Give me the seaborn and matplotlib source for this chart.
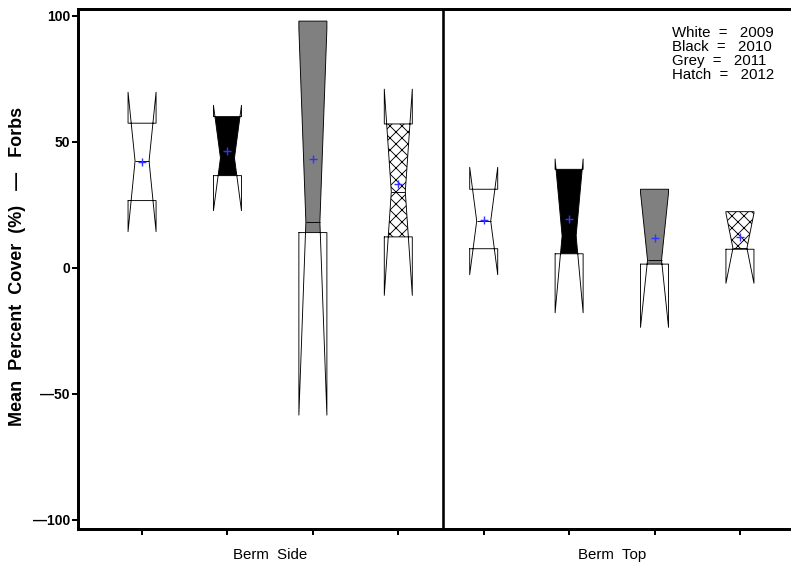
import matplotlib
matplotlib.use('Agg')
import matplotlib.pyplot as plt
import seaborn as sns

# Summary values (mean percent cover of forbs)
positions = [1, 2, 3, 4, 5, 6, 7, 8]
years = ['2009', '2010', '2011', '2012', '2009', '2010', '2011', '2012']
q1 = [26.7, 36.6, 14.0, 12.3, 7.6, 5.6, 1.5, 7.4]
median = [42.4, 43.6, 18.2, 30.2, 18.6, 12.7, 3.1, 7.8]
q3 = [57.4, 60.0, 97.9, 57.1, 31.2, 39.1, 31.2, 22.3]
notch_lo = [14.4, 22.7, -58.4, -10.9, -2.7, -17.8, -23.6, -6.1]
notch_hi = [69.7, 64.5, 94.8, 70.9, 39.9, 43.2, 29.8, 21.7]
means = [42.0, 46.5, 43.1, 33.3, 19.0, 19.3, 11.7, 12.4]

sites = ['Berm  Side', 'Berm  Top']
site_centers = [2.5, 6.5]
legend_lines = ['White  =   2009', 'Black  =   2010', 'Grey  =   2011', 'Hatch  =   2012']
ytick_vals = [-100, -50, 0, 50, 100]
ytick_labels = ['\u2014100', '\u201450', '0', '50', '100']

# fill style for each year
year_style = {
    '2009': dict(facecolor='white', hatch=None),
    '2010': dict(facecolor='black', hatch=None),
    '2011': dict(facecolor='#808080', hatch=None),
    '2012': dict(facecolor='white', hatch='xx'),
}

sns.set_style('white')
plt.rcParams['font.family'] = ['Liberation Sans', 'DejaVu Sans']
plt.rcParams['hatch.linewidth'] = 0.9
for key in ['text.color', 'axes.labelcolor', 'xtick.color', 'ytick.color']:
    plt.rcParams[key] = 'black'

HALF = 0.164  # half box width in x units


def notch_fill(pos, lo, med, hi, nlo, nhi):
    """Polygon of the notched box between Q1 and Q3"""
    indent = HALF * 0.5

    def edge(y):
        if y >= med:
            if y >= nhi:
                return HALF
            return HALF - indent * (nhi - y) / (nhi - med)
        if y <= nlo:
            return HALF
        return HALF - indent * (y - nlo) / (med - nlo)

    ys = sorted(set([lo, hi] + [v for v in (nlo, med, nhi) if lo < v < hi]))
    left = [(pos - edge(y), y) for y in ys]
    right = [(pos + edge(y), y) for y in reversed(ys)]
    return left + right


fig = plt.figure(figsize=(791 / 72, 574 / 72), dpi=72)
ax = fig.add_axes([78 / 791, 1 - 529.3 / 574, (804 - 78) / 791, (529.3 - 9) / 574])

# filled part of each box
for i, pos in enumerate(positions):
    st = year_style[years[i]]
    poly = notch_fill(pos, q1[i], median[i], q3[i], notch_lo[i], notch_hi[i])
    xs, ys = zip(*poly)
    ax.fill(xs, ys, facecolor=st['facecolor'], edgecolor='black', linewidth=0,
            hatch=st['hatch'], zorder=2)

# notched outlines
stats = []
for i in range(len(positions)):
    stats.append(dict(med=median[i], q1=q1[i], q3=q3[i], cilo=notch_lo[i], cihi=notch_hi[i],
                      whislo=q1[i], whishi=q3[i], fliers=[]))
ax.bxp(stats, positions=positions, widths=2 * HALF, shownotches=True, showcaps=False,
       showfliers=False, manage_ticks=False,
       boxprops=dict(color='black', linewidth=0.9),
       medianprops=dict(color='black', linewidth=0.9),
       whiskerprops=dict(linewidth=0))
for artist in ax.lines:
    artist.set_zorder(3)

# means
sns.scatterplot(x=positions, y=means, marker='+', color='#3333ff', edgecolor='#3333ff',
                s=60, linewidth=1.4, ax=ax, zorder=5, legend=False)

# divider between sites
ax.axvline(4.52, color='black', linewidth=2.6, zorder=4)

ax.set_xlim(0.25, 8.75)
ax.set_ylim(-103.7, 102.7)

ax.set_yticks(ytick_vals)
ax.set_yticklabels(ytick_labels, fontsize=14, fontweight='bold')
ax.set_xticks(positions)
ax.set_xticklabels([])
ax.set_xticks(site_centers, minor=True)
ax.set_xticklabels(sites, minor=True, fontsize=15)
ax.tick_params(axis='both', which='major', direction='out', length=6, width=2, color='black',
               left=True, bottom=True, pad=2)
ax.tick_params(axis='x', which='minor', length=0, pad=19)

for side in ['left', 'bottom', 'top', 'right']:
    ax.spines[side].set_linewidth(3)
    ax.spines[side].set_color('black')

fig.text(18 / 791, 1 - 266 / 574, 'Mean  Percent  Cover  (%)   \u2014   Forbs', rotation=90,
         ha='center', va='center', fontsize=18, fontweight='bold')

# year key in the top-right corner
for k, line in enumerate(legend_lines):
    ax.text(7.2, 93.2 - 5.6 * k, line, fontsize=15, ha='left', va='center')

fig.savefig('out.png', dpi=72)
